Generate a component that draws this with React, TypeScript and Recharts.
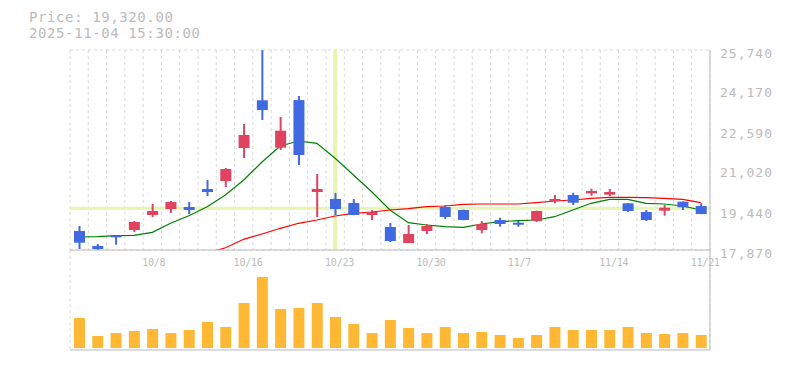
import React from "react";
import {
  Bar,
  BarChart,
  CartesianGrid,
  ComposedChart,
  Line,
  ReferenceLine,
  XAxis,
  YAxis,
} from "recharts";

const DATES = [
  "10/2", "10/3", "10/6", "10/7", "10/8", "10/9", "10/10", "10/14", "10/15", "10/16",
  "10/17", "10/20", "10/21", "10/22", "10/23", "10/24", "10/27", "10/28", "10/29", "10/30",
  "10/31", "11/4", "11/5", "11/6", "11/7", "11/10", "11/11", "11/12", "11/13", "11/14",
  "11/17", "11/18", "11/19", "11/20", "11/21",
];
const OPEN = [
  18618, 18027, 18448, 18657, 19247, 19483, 19562, 20270, 20585, 21884,
  23761, 21896, 23769, 20152, 19877, 19719, 19247, 18775, 18145, 18618,
  19562, 19444, 18657, 19050, 18944, 19011, 19786, 20034, 20101, 20046,
  19708, 19365, 19416, 19771, 19601,
];
const HIGH = [
  18814, 18106, 18460, 19011, 19680, 19798, 19759, 20625, 21097, 22828,
  25740, 23104, 23930, 20861, 20113, 19877, 19444, 18932, 18854, 18893,
  19641, 19460, 19011, 19141, 19011, 19420, 20034, 20125, 20282, 20270,
  19720, 19444, 19641, 19780, 19708,
];
const LOW = [
  17909, 17880, 18079, 18578, 19169, 19326, 19287, 19995, 20349, 21490,
  22986, 21805, 21215, 19169, 19247, 19240, 19050, 18185, 18140, 18500,
  19090, 19040, 18527, 18787, 18787, 18972, 19708, 19641, 20007, 19995,
  19365, 19011, 19220, 19444, 19280,
];
const CLOSE = [
  18157, 17909, 18382, 18972, 19405, 19759, 19444, 20152, 21057, 22395,
  23379, 22565, 21608, 20270, 19483, 19247, 19365, 18224, 18500, 18814,
  19169, 19050, 18893, 18893, 18866, 19405, 19877, 19731, 20192, 20152,
  19405, 19050, 19534, 19550, 19287,
];
const MA_SHORT = [
  18382, 18393, 18433, 18448, 18566, 18921, 19220, 19574, 20034, 20625,
  21333, 21962, 22159, 22069, 21478, 20821, 20164, 19444, 18944, 18854,
  18787, 18763, 18893, 18984, 19023, 19051, 19180, 19444, 19708, 19865,
  19865, 19708, 19680, 19601, 19444,
];
const MA_LONG = [
  null, null, null, null, null, null, null, 17740, 17960, 18291,
  18500, 18724, 18921, 19051, 19208, 19314, 19365, 19444, 19495, 19574,
  19601, 19668, 19680, 19680, 19680, 19731, 19798, 19838, 19904, 19944,
  19944, 19928, 19904, 19865, 19731,
];
const VOLUME = [
  300, 120, 150, 170, 190, 150, 180, 260, 210, 450,
  710, 390, 400, 450, 310, 240, 150, 280, 200, 150,
  210, 150, 160, 130, 100, 130, 210, 180, 180, 180,
  210, 150, 140, 150, 130,
];
const PRICE_TICKS = [17870, 19440, 21020, 22590, 24170, 25740];
const LABEL_DATES = ["10/8", "10/16", "10/23", "10/30", "11/7", "11/14", "11/21"];
const CROSS_DATE = "10/23";
const CROSS_PRICE = 19510;

const data = DATES.map((d, i) => ({
  date: d,
  slot: i + 0.5,
  open: OPEN[i],
  high: HIGH[i],
  low: LOW[i],
  close: CLOSE[i],
  maShort: MA_SHORT[i],
  maLong: MA_LONG[i],
  vol: VOLUME[i],
}));

const N = DATES.length;
const GRID_X = Array.from({ length: N + 1 }, (_, i) => i);
const GRID_Y = Array.from({ length: 12 }, (_, i) => i);

const TEXT = "#bbbbbb";
const GRID = "#d9d9d9";
const BORDER = "#bbbbbb";
const UP = "#e0435f";
const DOWN = "#4169e1";
const MONO = "'DejaVu Sans Mono', monospace";

function Candle(props: any) {
  const { x, y, width, height, payload } = props;
  if (height == null || !payload) return null;
  const { open, close, high, low } = payload;
  const py = (v: number) => y + ((high - v) / (high - low || 1)) * height;
  const top = py(Math.max(open, close));
  const bot = py(Math.min(open, close));
  const color = close >= open ? UP : DOWN;
  const cx = x + width / 2;
  return (
    <g>
      <rect x={cx - 1} y={y} width={2} height={height} fill={color} />
      <rect x={x} y={top} width={width} height={Math.max(bot - top, 2)} fill={color} />
    </g>
  );
}

function PriceTick(props: any) {
  const { x, y, payload } = props;
  return (
    <text x={x + 2} y={y + 3} dominantBaseline="central" fill={TEXT} fontFamily={MONO} fontSize={13} letterSpacing={1}>
      {Number(payload.value).toLocaleString("en-US")}
    </text>
  );
}

function DateTick(props: any) {
  const { x, y, payload } = props;
  const label = DATES[payload.value];
  if (!label || !LABEL_DATES.includes(label)) return null;
  return (
    <text x={x - 1} y={y + 4} dominantBaseline="central" fill={TEXT} fontFamily={MONO} fontSize={10} letterSpacing={-0.2}>
      {label}
    </text>
  );
}

export default function App() {
  return (
    <div style={{ position: "absolute", left: 0, top: 0, width: 785, height: 370, background: "#fff" }}>
      <div
        style={{
          position: "absolute",
          left: 29,
          top: 9,
          fontFamily: MONO,
          fontSize: 14,
          lineHeight: "16px",
          letterSpacing: 0.6,
          color: TEXT,
          whiteSpace: "pre",
        }}
      >
        {"Price: 19,320.00\n2025-11-04 15:30:00"}
      </div>

      <div style={{ position: "absolute", left: 0, top: 0 }}>
        <BarChart width={785} height={370} data={data} margin={{ top: 250, right: 0, left: 70, bottom: 0 }} barCategoryGap={0}>
          <CartesianGrid xAxisId="grid" yAxisId="vol" horizontal={false} stroke={GRID} strokeDasharray="3 3" />
          <XAxis
            xAxisId="grid"
            dataKey="slot"
            type="number"
            domain={[0, N]}
            ticks={GRID_X}
            allowDataOverflow
            tick={false}
            tickLine={false}
            axisLine={{ stroke: BORDER }}
            height={20}
          />
          <XAxis xAxisId="cat" dataKey="date" hide height={0} />
          <YAxis yAxisId="vol" orientation="right" domain={[-20, 980]} allowDataOverflow tick={false} tickLine={false} axisLine={{ stroke: BORDER }} width={75} />
          <Bar xAxisId="cat" yAxisId="vol" dataKey="vol" fill="#ffb833" barSize={11} isAnimationActive={false} />
        </BarChart>
      </div>

      <div style={{ position: "absolute", left: 0, top: 0 }}>
        <ComposedChart width={785} height={370} data={data} margin={{ top: 50, right: 0, left: 70, bottom: 100 }} barCategoryGap={0}>
          <CartesianGrid xAxisId="grid" yAxisId="grid" stroke={GRID} strokeDasharray="3 3" />
          <XAxis
            xAxisId="grid"
            dataKey="slot"
            type="number"
            domain={[0, N]}
            ticks={GRID_X}
            allowDataOverflow
            interval={0}
            tick={<DateTick />}
            tickLine={false}
            axisLine={{ stroke: BORDER }}
            height={20}
          />
          <XAxis xAxisId="cat" dataKey="date" hide height={0} />
          <YAxis yAxisId="grid" type="number" domain={[0, 11]} ticks={GRID_Y} hide width={0} />
          <YAxis
            yAxisId="price"
            orientation="right"
            domain={[17870, 25740]}
            ticks={PRICE_TICKS}
            allowDataOverflow
            tick={<PriceTick />}
            tickLine={false}
            axisLine={{ stroke: BORDER }}
            width={75}
          />
          <ReferenceLine xAxisId="cat" yAxisId="price" x={CROSS_DATE} stroke="#e6f5b0" strokeWidth={4} />
          <ReferenceLine xAxisId="cat" yAxisId="price" y={CROSS_PRICE} stroke="#e6f5b0" strokeWidth={3} />
          <Line xAxisId="cat" yAxisId="price" type="linear" dataKey="maShort" stroke="#008000" strokeWidth={1.2} dot={false} isAnimationActive={false} />
          <Line xAxisId="cat" yAxisId="price" type="linear" dataKey="maLong" stroke="#ff0000" strokeWidth={1.2} dot={false} isAnimationActive={false} />
          <Bar
            xAxisId="cat"
            yAxisId="price"
            dataKey={(d: any) => [d.low, d.high]}
            shape={<Candle />}
            barSize={11}
            isAnimationActive={false}
            zIndex={500}
          />
        </ComposedChart>
      </div>
    </div>
  );
}
